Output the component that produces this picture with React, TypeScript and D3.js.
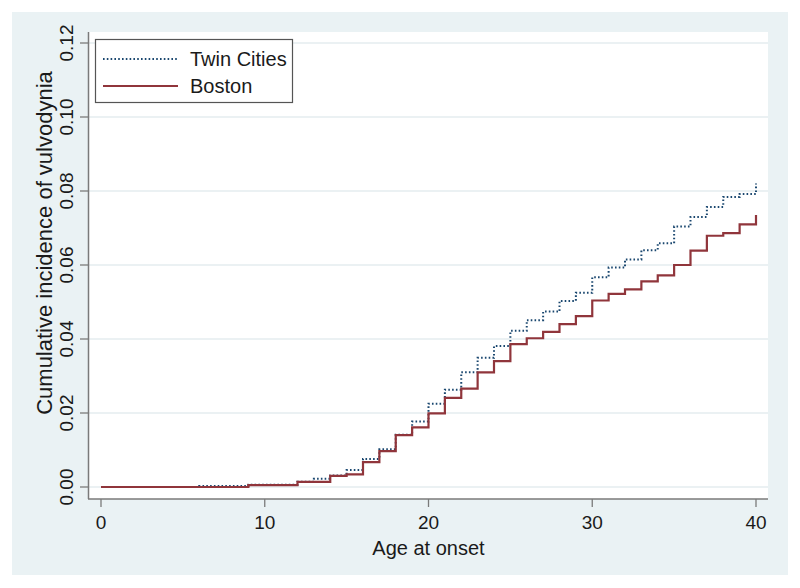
import React from "react";
import * as d3 from "d3";

const ages = d3.range(0, 41);
const twinCities = [
  0, 0, 0, 0, 0, 0, 0.0003, 0.0003, 0.0003, 0.0006, 0.0006, 0.0006, 0.0014, 0.0022, 0.0031,
  0.0046, 0.0076, 0.0102, 0.0141, 0.0177, 0.0225, 0.0263, 0.031, 0.0349, 0.0381, 0.0422,
  0.0451, 0.0474, 0.0503, 0.0525, 0.0567, 0.0593, 0.0615, 0.064, 0.0659, 0.0704, 0.073,
  0.0757, 0.0784, 0.0792, 0.082,
];
const boston = [
  0, 0, 0, 0, 0, 0, 0, 0, 0, 0.0005, 0.0005, 0.0005, 0.0014, 0.0014, 0.003, 0.0034, 0.0067,
  0.0097, 0.014, 0.0161, 0.0199, 0.0241, 0.0266, 0.031, 0.034, 0.0386, 0.0402, 0.0419, 0.044,
  0.0462, 0.0504, 0.0522, 0.0534, 0.0556, 0.0572, 0.06, 0.0639, 0.0679, 0.0686, 0.071, 0.0735,
];
const xTicks = [0, 10, 20, 30, 40];
const yTicks = [0, 0.02, 0.04, 0.06, 0.08, 0.1, 0.12];
const seriesNames = ["Twin Cities", "Boston"];
const xTitle = "Age at onset";
const yTitle = "Cumulative incidence of vulvodynia";

const FONT = "'Liberation Sans', Arial, Helvetica, sans-serif";
const NAVY = "#1a476f";
const MAROON = "#90353b";
const BG = "#eaf2f4";
const GRID = "#e4ecef";
const AXIS = "#7a7a7a";
const TEXT = "#1a1a1a";

export default function App() {
  const W = 800, H = 588;
  const plot = { left: 89, right: 768, top: 32, bottom: 499 };
  const x = d3.scaleLinear().domain([0, 40]).range([101, 756]);
  const y = d3.scaleLinear().domain([0, 0.12]).range([487, 43]);
  const line = d3
    .line<number>()
    .x((_, i) => x(ages[i]))
    .y((d) => y(d))
    .curve(d3.curveStepAfter);

  return (
    <div style={{ position: "fixed", left: 0, top: 0, width: W, height: H, background: "#fff" }}>
      <svg width={W} height={H} style={{ display: "block" }} fontFamily={FONT}>
        <rect x={0} y={0} width={W} height={H} fill="#ffffff" />
        <rect x={12} y={12} width={776} height={563} fill={BG} />
        <rect x={plot.left} y={plot.top} width={plot.right - plot.left} height={plot.bottom - plot.top} fill="#ffffff" />
        {yTicks.map((t) => (
          <line key={"g" + t} x1={plot.left} x2={plot.right} y1={y(t)} y2={y(t)} stroke={GRID} strokeWidth={1.6} />
        ))}
        <path d={line(twinCities) || ""} fill="none" stroke={NAVY} strokeWidth={2} strokeDasharray="1.6 2.2" />
        <path d={line(boston) || ""} fill="none" stroke={MAROON} strokeWidth={2.2} />
        {/* axes */}
        <line x1={plot.left - 0.5} x2={plot.left - 0.5} y1={plot.top} y2={plot.bottom} stroke={AXIS} strokeWidth={1.5} />
        <line x1={plot.left - 1} x2={plot.right} y1={plot.bottom} y2={plot.bottom} stroke={AXIS} strokeWidth={1.5} />
        {yTicks.map((t) => (
          <g key={"yt" + t}>
            <line x1={80} x2={plot.left} y1={y(t)} y2={y(t)} stroke={AXIS} strokeWidth={1.3} />
            <text
              transform={`translate(${72.5},${y(t)}) rotate(-90)`}
              textAnchor="middle"
              fontSize={19}
              fill={TEXT}
            >
              {d3.format(".2f")(t)}
            </text>
          </g>
        ))}
        {xTicks.map((t) => (
          <g key={"xt" + t}>
            <line x1={x(t)} x2={x(t)} y1={plot.bottom} y2={507} stroke={AXIS} strokeWidth={1.3} />
            <text x={x(t)} y={529} textAnchor="middle" fontSize={19} fill={TEXT}>
              {t}
            </text>
          </g>
        ))}
        <text x={(plot.left + plot.right) / 2} y={555} textAnchor="middle" fontSize={20} fill={TEXT}>
          {xTitle}
        </text>
        <text
          transform={`translate(${52},${243}) rotate(-90)`}
          textAnchor="middle"
          fontSize={22}
          fill={TEXT}
        >
          {yTitle}
        </text>
        {/* legend */}
        <rect x={95.5} y={39.5} width={197} height={63} fill="#ffffff" stroke="#555" strokeWidth={1.2} />
        <line x1={103} x2={178} y1={59} y2={59} stroke={NAVY} strokeWidth={2} strokeDasharray="1.6 2.2" />
        <line x1={103} x2={178} y1={86} y2={86} stroke={MAROON} strokeWidth={2.2} />
        <text x={190} y={66} fontSize={20} fill={TEXT}>{seriesNames[0]}</text>
        <text x={190} y={93} fontSize={20} fill={TEXT}>{seriesNames[1]}</text>
      </svg>
    </div>
  );
}
